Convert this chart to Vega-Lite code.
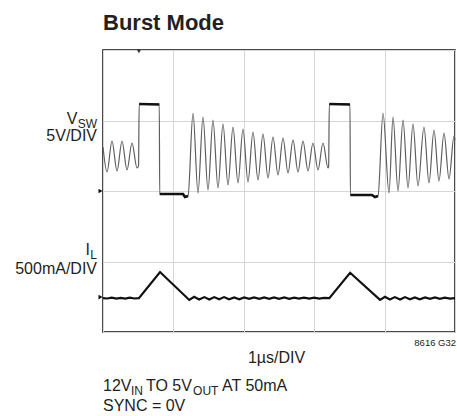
{
  "$schema": "https://vega.github.io/schema/vega-lite/v6.json",
  "width": 352,
  "height": 282,
  "autosize": "none",
  "padding": {"left": 103, "top": 50, "right": 2, "bottom": 84},
  "background": "white",
  "title": {"text": "Burst Mode", "anchor": "start", "frame": "group", "fontSize": 22, "font": "Liberation Sans", "fontWeight": "bold", "color": "#231f20", "offset": 15},
  "config": {
    "view": {"stroke": "#111", "strokeWidth": 1.5},
    "axis": {"gridColor": "#d6d6d6", "gridWidth": 1, "labels": false, "ticks": false, "domain": false, "title": null}
  },
  "datasets": {
    "traces": [
      {"s":"vsw","x":0,"y":5.248},{"s":"vsw","x":0.114,"y":4.539},{"s":"vsw","x":0.256,"y":5.418},{"s":"vsw","x":0.398,"y":4.567},
      {"s":"vsw","x":0.540,"y":5.418},{"s":"vsw","x":0.682,"y":4.596},{"s":"vsw","x":0.824,"y":5.362},{"s":"vsw","x":0.966,"y":4.652},
      {"s":"vsw","x":1.009,"y":4.709},{"s":"vsw","x":1.028,"y":6.468},{"s":"vsw","x":1.599,"y":6.468},{"s":"vsw","x":1.611,"y":3.915},
      {"s":"vsw","x":2.273,"y":3.915},{"s":"vsw","x":2.330,"y":3.830},{"s":"vsw","x":2.415,"y":3.858},{"s":"vsw","x":2.557,"y":6.213},
      {"s":"vsw","x":2.699,"y":3.943},{"s":"vsw","x":2.841,"y":6.099},{"s":"vsw","x":2.983,"y":4.028},{"s":"vsw","x":3.125,"y":6.014},
      {"s":"vsw","x":3.267,"y":4.085},{"s":"vsw","x":3.409,"y":5.901},{"s":"vsw","x":3.551,"y":4.170},{"s":"vsw","x":3.693,"y":5.816},
      {"s":"vsw","x":3.835,"y":4.227},{"s":"vsw","x":3.977,"y":5.759},{"s":"vsw","x":4.119,"y":4.255},{"s":"vsw","x":4.261,"y":5.674},
      {"s":"vsw","x":4.403,"y":4.312},{"s":"vsw","x":4.545,"y":5.617},{"s":"vsw","x":4.688,"y":4.369},{"s":"vsw","x":4.830,"y":5.532},
      {"s":"vsw","x":4.972,"y":4.454},{"s":"vsw","x":5.114,"y":5.504},{"s":"vsw","x":5.256,"y":4.511},{"s":"vsw","x":5.398,"y":5.447},
      {"s":"vsw","x":5.540,"y":4.539},{"s":"vsw","x":5.682,"y":5.418},{"s":"vsw","x":5.824,"y":4.567},{"s":"vsw","x":5.966,"y":5.362},
      {"s":"vsw","x":6.108,"y":4.596},{"s":"vsw","x":6.250,"y":5.362},{"s":"vsw","x":6.392,"y":4.652},{"s":"vsw","x":6.410,"y":4.700},
      {"s":"vsw","x":6.429,"y":6.468},{"s":"vsw","x":7.017,"y":6.468},{"s":"vsw","x":7.028,"y":3.887},{"s":"vsw","x":7.642,"y":3.887},
      {"s":"vsw","x":7.727,"y":3.830},{"s":"vsw","x":7.813,"y":3.858},{"s":"vsw","x":7.955,"y":6.213},{"s":"vsw","x":8.125,"y":3.943},
      {"s":"vsw","x":8.239,"y":6.099},{"s":"vsw","x":8.381,"y":4.000},{"s":"vsw","x":8.523,"y":6.014},{"s":"vsw","x":8.665,"y":4.085},
      {"s":"vsw","x":8.807,"y":5.901},{"s":"vsw","x":8.949,"y":4.142},{"s":"vsw","x":9.119,"y":5.816},{"s":"vsw","x":9.261,"y":4.227},
      {"s":"vsw","x":9.403,"y":5.730},{"s":"vsw","x":9.545,"y":4.284},{"s":"vsw","x":9.688,"y":5.645},{"s":"vsw","x":9.830,"y":4.340},
      {"s":"vsw","x":9.972,"y":5.560},{"s":"vsw","x":10,"y":5.45},

      {"s":"flat","g":"a","x":1.028,"y":6.468},{"s":"flat","g":"a","x":1.599,"y":6.455},
      {"s":"flat","g":"b","x":1.611,"y":3.915},{"s":"flat","g":"b","x":2.273,"y":3.915},{"s":"flat","g":"b","x":2.330,"y":3.830},{"s":"flat","g":"b","x":2.415,"y":3.858},
      {"s":"flat","g":"c","x":6.429,"y":6.468},{"s":"flat","g":"c","x":7.017,"y":6.455},
      {"s":"flat","g":"d","x":7.028,"y":3.887},{"s":"flat","g":"d","x":7.642,"y":3.887},{"s":"flat","g":"d","x":7.727,"y":3.830},{"s":"flat","g":"d","x":7.813,"y":3.858},

      {"s":"il","x":0,"y":0.96},{"s":"il","x":0.12,"y":0.95},{"s":"il","x":0.25,"y":0.975},{"s":"il","x":0.38,"y":0.95},
      {"s":"il","x":0.5,"y":0.97},{"s":"il","x":0.63,"y":0.95},{"s":"il","x":0.76,"y":0.975},{"s":"il","x":0.89,"y":0.95},
      {"s":"il","x":1.02,"y":0.96},{"s":"il","x":1.62,"y":1.70},{"s":"il","x":2.45,"y":0.91},
      {"s":"il","x":2.59,"y":1.00},{"s":"il","x":2.73,"y":0.92},{"s":"il","x":2.88,"y":0.99},{"s":"il","x":3.02,"y":0.92},
      {"s":"il","x":3.16,"y":0.99},{"s":"il","x":3.30,"y":0.93},{"s":"il","x":3.44,"y":0.99},{"s":"il","x":3.58,"y":0.93},
      {"s":"il","x":3.73,"y":0.98},{"s":"il","x":3.87,"y":0.93},{"s":"il","x":4.01,"y":0.98},{"s":"il","x":4.15,"y":0.94},
      {"s":"il","x":4.29,"y":0.98},{"s":"il","x":4.44,"y":0.94},{"s":"il","x":4.58,"y":0.98},{"s":"il","x":4.72,"y":0.94},
      {"s":"il","x":4.86,"y":0.98},{"s":"il","x":5.00,"y":0.94},{"s":"il","x":5.15,"y":0.98},{"s":"il","x":5.29,"y":0.94},
      {"s":"il","x":5.43,"y":0.975},{"s":"il","x":5.57,"y":0.945},{"s":"il","x":5.71,"y":0.975},{"s":"il","x":5.86,"y":0.945},
      {"s":"il","x":6.00,"y":0.975},{"s":"il","x":6.14,"y":0.945},{"s":"il","x":6.28,"y":0.97},{"s":"il","x":6.43,"y":0.96},
      {"s":"il","x":7.02,"y":1.68},{"s":"il","x":7.87,"y":0.91},
      {"s":"il","x":8.01,"y":1.00},{"s":"il","x":8.15,"y":0.92},{"s":"il","x":8.29,"y":0.99},{"s":"il","x":8.44,"y":0.92},
      {"s":"il","x":8.58,"y":0.99},{"s":"il","x":8.72,"y":0.93},{"s":"il","x":8.86,"y":0.98},{"s":"il","x":9.00,"y":0.93},
      {"s":"il","x":9.15,"y":0.98},{"s":"il","x":9.29,"y":0.94},{"s":"il","x":9.43,"y":0.98},{"s":"il","x":9.57,"y":0.94},
      {"s":"il","x":9.71,"y":0.975},{"s":"il","x":9.86,"y":0.945},{"s":"il","x":10,"y":0.96}
    ],
    "markers": [
      {"m":"gnd","x":-0.07,"y":4.0},
      {"m":"gnd","x":-0.07,"y":0.99},
      {"m":"trig","x":1.02,"y":7.96}
    ],
    "labels": [
      {"r":"rmain","t":"V","x":-0.724,"y":5.90},
      {"r":"rsub","t":"SW","x":-0.170,"y":5.79},
      {"r":"rmain","t":"5V/DIV","x":-0.170,"y":5.42},
      {"r":"rmain","t":"I","x":-0.369,"y":2.18},
      {"r":"rsub","t":"L","x":-0.170,"y":2.07},
      {"r":"rmain","t":"500mA/DIV","x":-0.170,"y":1.65},
      {"r":"cmain","t":"1µs/DIV","x":4.93,"y":-0.88},
      {"r":"small","t":"8616 G32","x":10.03,"y":-0.40},
      {"r":"lmain","t":"12V","x":0,"y":-1.67},
      {"r":"lsub","t":"IN","x":0.795,"y":-1.78},
      {"r":"lmain","t":"TO 5V","x":1.22,"y":-1.67},
      {"r":"lsub","t":"OUT","x":2.56,"y":-1.78},
      {"r":"lmain","t":"AT 50mA","x":3.38,"y":-1.67},
      {"r":"lmain","t":"SYNC = 0V","x":0,"y":-2.24}
    ]
  },
  "layer": [
    {
      "data": {"name": "traces"},
      "transform": [{"filter": "datum.s === 'vsw'"}],
      "mark": {"type": "line", "interpolate": "monotone", "color": "#5e5e5e", "strokeWidth": 1.2},
      "encoding": {
        "x": {"field": "x", "type": "quantitative", "scale": {"domain": [0, 10], "nice": false, "zero": false}, "axis": {"values": [0,1,2,3,4,5,6,7,8,9,10], "grid": true}},
        "y": {"field": "y", "type": "quantitative", "scale": {"domain": [0, 8], "nice": false, "zero": false}, "axis": {"values": [0,1,2,3,4,5,6,7,8], "grid": true}}
      }
    },
    {
      "data": {"name": "traces"},
      "transform": [{"filter": "datum.s === 'flat'"}],
      "mark": {"type": "line", "color": "#111", "strokeWidth": 2.6},
      "encoding": {
        "x": {"field": "x", "type": "quantitative"},
        "y": {"field": "y", "type": "quantitative"},
        "detail": {"field": "g"}
      }
    },
    {
      "data": {"name": "traces"},
      "transform": [{"filter": "datum.s === 'il'"}],
      "mark": {"type": "line", "color": "#111", "strokeWidth": 2.2},
      "encoding": {
        "x": {"field": "x", "type": "quantitative"},
        "y": {"field": "y", "type": "quantitative"}
      }
    },
    {
      "data": {"name": "markers"},
      "transform": [{"filter": "datum.m === 'gnd'"}],
      "mark": {"type": "point", "shape": "triangle-right", "filled": true, "color": "#111", "size": 22, "opacity": 1},
      "encoding": {
        "x": {"field": "x", "type": "quantitative"},
        "y": {"field": "y", "type": "quantitative"}
      }
    },
    {
      "data": {"name": "markers"},
      "transform": [{"filter": "datum.m === 'trig'"}],
      "mark": {"type": "point", "shape": "triangle-down", "filled": true, "color": "#333", "size": 18, "opacity": 1},
      "encoding": {
        "x": {"field": "x", "type": "quantitative"},
        "y": {"field": "y", "type": "quantitative"}
      }
    },
    {
      "data": {"name": "labels"},
      "transform": [{"filter": "datum.r === 'rmain'"}],
      "mark": {"type": "text", "align": "right", "baseline": "alphabetic", "font": "Liberation Sans", "fontSize": 16, "color": "#231f20"},
      "encoding": {
        "x": {"field": "x", "type": "quantitative"},
        "y": {"field": "y", "type": "quantitative"},
        "text": {"field": "t"}
      }
    },
    {
      "data": {"name": "labels"},
      "transform": [{"filter": "datum.r === 'rsub'"}],
      "mark": {"type": "text", "align": "right", "baseline": "alphabetic", "font": "Liberation Sans", "fontSize": 12, "color": "#231f20"},
      "encoding": {
        "x": {"field": "x", "type": "quantitative"},
        "y": {"field": "y", "type": "quantitative"},
        "text": {"field": "t"}
      }
    },
    {
      "data": {"name": "labels"},
      "transform": [{"filter": "datum.r === 'cmain'"}],
      "mark": {"type": "text", "align": "center", "baseline": "alphabetic", "font": "Liberation Sans", "fontSize": 16, "color": "#231f20"},
      "encoding": {
        "x": {"field": "x", "type": "quantitative"},
        "y": {"field": "y", "type": "quantitative"},
        "text": {"field": "t"}
      }
    },
    {
      "data": {"name": "labels"},
      "transform": [{"filter": "datum.r === 'small'"}],
      "mark": {"type": "text", "align": "right", "baseline": "alphabetic", "font": "Liberation Sans", "fontSize": 9.5, "color": "#231f20"},
      "encoding": {
        "x": {"field": "x", "type": "quantitative"},
        "y": {"field": "y", "type": "quantitative"},
        "text": {"field": "t"}
      }
    },
    {
      "data": {"name": "labels"},
      "transform": [{"filter": "datum.r === 'lmain'"}],
      "mark": {"type": "text", "align": "left", "baseline": "alphabetic", "font": "Liberation Sans", "fontSize": 16, "color": "#231f20"},
      "encoding": {
        "x": {"field": "x", "type": "quantitative"},
        "y": {"field": "y", "type": "quantitative"},
        "text": {"field": "t"}
      }
    },
    {
      "data": {"name": "labels"},
      "transform": [{"filter": "datum.r === 'lsub'"}],
      "mark": {"type": "text", "align": "left", "baseline": "alphabetic", "font": "Liberation Sans", "fontSize": 12, "color": "#231f20"},
      "encoding": {
        "x": {"field": "x", "type": "quantitative"},
        "y": {"field": "y", "type": "quantitative"},
        "text": {"field": "t"}
      }
    }
  ]
}
